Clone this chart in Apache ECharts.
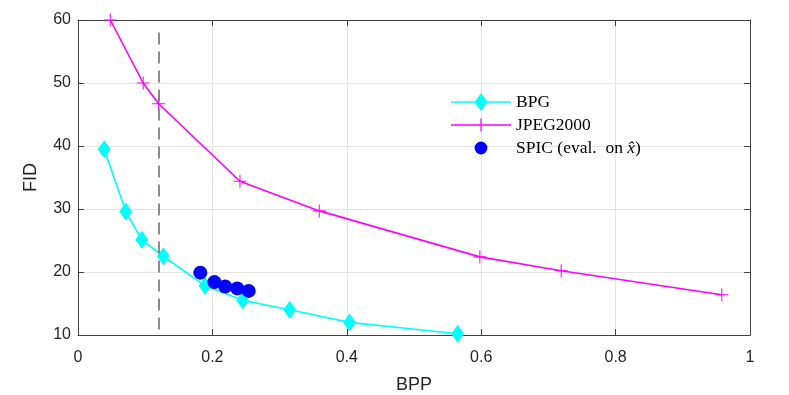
<!DOCTYPE html>
<html>
<head>
<meta charset="utf-8">
<script src="https://cdn.jsdelivr.net/npm/echarts@6/dist/echarts.min.js"></script>
<style>
  html, body { margin: 0; padding: 0; background: #fff; }
  #chart { width: 789px; height: 395px; }
</style>
</head>
<body>
<div id="chart"></div>
<script>
// values
var bpgBpp = [0.039, 0.071, 0.095, 0.127, 0.189, 0.245, 0.315, 0.404, 0.565];
var bpgFid = [39.5, 29.6, 25.1, 22.5, 17.8, 15.5, 14.0, 12.0, 10.2];
var jpegBpp = [0.048, 0.097, 0.120, 0.241, 0.359, 0.598, 0.719, 0.958];
var jpegFid = [60.0, 50.0, 46.7, 34.4, 29.7, 22.4, 20.2, 16.4];
var spicBpp = [0.182, 0.203, 0.219, 0.237, 0.254];
var spicFid = [19.9, 18.4, 17.7, 17.4, 17.0];
var dashX = 0.12;
var dashFid = [58, 10];
var xTicks = [0, 0.2, 0.4, 0.6, 0.8, 1];
var yTicks = [10, 20, 30, 40, 50, 60];

function pairs(xs, ys) {
  var out = [];
  for (var i = 0; i < xs.length; i++) out.push([xs[i], ys[i]]);
  return out;
}

var plus = 'path://M4.6,0H5.4V4.6H10V5.4H5.4V10H4.6V5.4H0V4.6H4.6Z';
// legend icons, 60x22 box (the two bare moves pin the box)
var lgBox = 'M0,0M60,22';
var lgLine = 'M0,10.2H60V11.8H0Z';
var iconBpg = 'path://' + lgBox + lgLine + 'M30,2L36.5,11L30,20L23.5,11Z';
var iconJpeg = 'path://' + lgBox + lgLine + 'M29.4,4.5H30.6V17.5H29.4Z';
var iconSpic = 'path://' + lgBox + 'M23.6,11A6.4,6.4 0 1 1 36.4,11A6.4,6.4 0 1 1 23.6,11Z';

var axisCol = '#404040';
var labelFont = 'Liberation Sans, Arial, sans-serif';
var serif = 'Liberation Serif, DejaVu Serif, serif';

var chart = echarts.init(document.getElementById('chart'));

function xAx(pos, show) {
  return {
    type: 'value', position: pos, min: xTicks[0], max: xTicks[xTicks.length - 1], interval: 0.2,
    name: show ? 'BPP' : '', nameLocation: 'middle', nameGap: 41,
    nameTextStyle: { fontFamily: labelFont, fontSize: 18, color: '#262626' },
    axisLine: { show: true, onZero: false, lineStyle: { color: axisCol, width: 1 } },
    axisTick: { show: true, inside: true, length: 6, lineStyle: { color: axisCol } },
    axisLabel: { show: show, fontFamily: labelFont, fontSize: 16, color: '#262626', margin: 15 },
    splitLine: { show: show, lineStyle: { color: '#e3e3e3', width: 1 } }
  };
}
function yAx(pos, show) {
  return {
    type: 'value', position: pos, min: yTicks[0], max: yTicks[yTicks.length - 1], interval: 10,
    name: show ? 'FID' : '', nameLocation: 'middle', nameGap: 38, nameRotate: 90,
    nameTextStyle: { fontFamily: labelFont, fontSize: 18, color: '#262626' },
    axisLine: { show: true, onZero: false, lineStyle: { color: axisCol, width: 1 } },
    axisTick: { show: true, inside: true, length: 6, lineStyle: { color: axisCol } },
    axisLabel: { show: show, fontFamily: labelFont, fontSize: 16, color: '#262626', margin: 7 },
    splitLine: { show: show, lineStyle: { color: '#e3e3e3', width: 1 } }
  };
}

var option = {
  backgroundColor: '#fff',
  animation: false,
  grid: { left: 78, right: 39, top: 20, bottom: 60, outerBoundsMode: 'none' },
  xAxis: [xAx('bottom', true), xAx('top', false)],
  yAxis: [yAx('left', true), yAx('right', false)],
  legend: {
    orient: 'vertical', left: 446, top: 86, itemGap: 1,
    itemWidth: 60, itemHeight: 22,
    textStyle: {
      fontFamily: serif, fontSize: 17.5, color: '#000',
      rich: { it: { fontStyle: 'italic', fontFamily: serif, fontSize: 17.5 } }
    },
    formatter: function (n) {
      if (n === 'SPIC') return 'SPIC (eval.  on {it|x\u0302})';
      return n;
    },
    data: [
      { name: 'BPG', icon: iconBpg },
      { name: 'JPEG2000', icon: iconJpeg },
      { name: 'SPIC', icon: iconSpic }
    ]
  },
  series: [
    {
      name: 'BPG', type: 'line', data: pairs(bpgBpp, bpgFid),
      symbol: 'diamond', symbolSize: [13, 18],
      lineStyle: { color: '#00ffff', width: 1.6 },
      itemStyle: { color: '#00ffff' },
      markLine: {
        silent: true, symbol: 'none', label: { show: false },
        lineStyle: { color: '#707070', type: [12, 7], width: 1.6 },
        data: [[{ coord: [dashX, dashFid[0]] }, { coord: [dashX, dashFid[1]] }]]
      },
      z: 3
    },
    {
      name: 'JPEG2000', type: 'line', data: pairs(jpegBpp, jpegFid),
      symbol: plus, symbolSize: 13,
      lineStyle: { color: '#ff00ff', width: 1.6 },
      itemStyle: { color: '#ff00ff' },
      z: 3
    },
    {
      name: 'SPIC', type: 'scatter', data: pairs(spicBpp, spicFid),
      symbol: 'circle', symbolSize: 14,
      itemStyle: { color: '#0000ff', opacity: 1 },
      z: 4
    }
  ]
};
chart.setOption(option);
</script>
</body>
</html>
